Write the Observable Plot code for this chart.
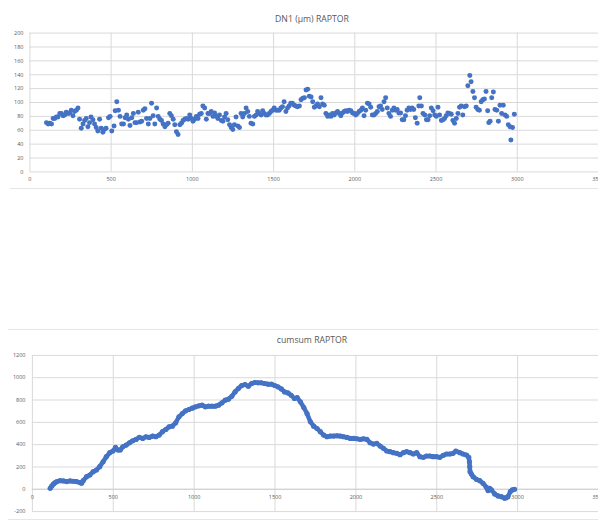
<!DOCTYPE html>
<html><head><meta charset="utf-8">
<script src="https://cdn.jsdelivr.net/npm/d3@7"></script>
<script src="https://cdn.jsdelivr.net/npm/@observablehq/plot@0.6"></script>
<style>
body{margin:0;background:#fff;width:598px;height:523px;overflow:hidden;position:relative;font-family:"Open Sans",sans-serif}
.t{position:absolute;left:0;width:624px;text-align:center;color:#595959;font-size:8.7px;line-height:1;white-space:nowrap}
.b{position:absolute;height:1px;background:#e6e6e6}
#p1,#p2{position:absolute;left:0}
</style></head><body>
<div class="b" style="top:188px;left:10px;width:600px"></div>
<div class="b" style="top:329px;left:8px;width:600px"></div>
<div class="b" style="top:519px;left:8px;width:600px"></div>
<div id="p1" style="top:0"></div>
<div id="p2" style="top:329px"></div>
<div class="t" style="top:15px">DN1 (µm) RAPTOR</div>
<div class="t" style="top:336px">cumsum RAPTOR</div>
<script>
const xTicks = [0, 500, 1000, 1500, 2000, 2500, 3000, 3500];
const yTicksTop = [0, 20, 40, 60, 80, 100, 120, 140, 160, 180, 200];
const yTicksBot = [-200, 0, 200, 400, 600, 800, 1000, 1200];

const dnX = [102,112,122,133,143,153,163,173,184,194,204,214,224,235,245,255,265,275,286,296,306,316,327,337,347,357,367,376,388,398,408,418,429,439,449,459,469,484,494,504,518,525,535,545,555,565,576,586,596,606,616,627,637,647,657,667,678,688,698,708,718,729,739,749,759,769,780,790,800,810,820,831,841,851,861,871,882,892,902,912,923,933,943,953,963,974,984,994,1004,1014,1025,1035,1045,1055,1065,1076,1086,1096,1106,1116,1127,1137,1147,1157,1167,1178,1188,1198,1208,1218,1229,1239,1249,1259,1269,1280,1290,1300,1310,1321,1331,1341,1351,1361,1372,1382,1392,1402,1412,1423,1433,1443,1453,1463,1474,1484,1494,1504,1514,1525,1535,1545,1555,1565,1576,1586,1596,1606,1616,1627,1637,1647,
1659,1669,1680,1690,1700,1710,1720,1731,1741,1751,1761,1771,1782,1792,1802,1812,1822,1833,1843,1853,1863,1873,1884,1894,1904,1914,1924,1935,1945,1955,1965,1976,1986,1996,2006,2016,2027,2037,2047,2057,2067,2078,2088,2098,2108,2118,2129,2139,2149,2159,2169,2180,2190,2200,2210,2220,2231,2241,2251,2261,2271,2282,2292,2302,2312,2322,2333,2343,2353,2363,2373,2384,2394,2400,2410,2420,2431,2441,2451,2461,2471,2482,2492,2502,2512,2522,2533,2543,2553,2563,2573,2584,2594,2604,2614,2625,2635,2645,2655,2665,2675,2686,2696,2708,2716,2727,2737,2747,2757,2767,2778,2788,2798,2808,2818,2825,2833,2843,2853,2863,2874,2884,2894,2904,2914,2925,2935,2945,2955,2961,2971,2982];
const dnY = [71,69,70,69,77,77,79,79,84,84,81,82,86,84,85,89,81,87,89,92,76,63,69,74,77,65,71,79,75,69,64,59,76,63,57,61,63,78,80,59,66,88,101,89,80,69,69,78,82,76,67,78,84,71,71,86,72,73,89,91,77,69,77,99,81,69,92,80,76,74,69,65,68,70,84,81,76,68,58,54,68,70,74,76,77,76,82,77,73,76,80,77,83,84,95,92,76,84,84,87,80,85,80,77,82,74,73,79,84,75,68,64,61,68,79,66,64,84,79,84,92,87,80,70,69,80,82,87,84,82,88,84,82,82,84,87,89,92,89,89,89,92,94,101,87,92,95,99,99,96,95,94,
95,104,106,107,118,119,109,108,101,93,95,98,94,107,98,96,84,80,82,80,84,82,85,87,84,81,85,87,88,87,89,88,85,84,82,84,87,89,92,81,89,99,98,93,82,82,84,87,94,95,90,101,107,92,84,80,89,92,89,90,85,85,75,75,81,89,92,90,92,90,78,70,95,107,95,84,82,75,75,81,92,88,82,80,93,82,74,75,77,81,85,84,83,74,70,77,84,93,95,82,94,95,124,139,130,116,107,93,90,89,101,104,105,116,88,71,73,107,115,90,89,73,96,84,96,82,80,68,65,46,64,83];

const csX = [110,120,131,141,151,171,192,212,233,253,273,294,304,314,335,355,376,396,416,437,457,478,498,514,529,543,559,580,600,620,641,661,682,702,722,743,763,784,804,825,845,865,886,906,927,947,967,988,1008,1029,1049,1069,1090,1110,1131,1151,1172,1192,1212,1233,1253,1273,1294,1314,1335,1355,1376,1396,1416,1437,1457,1478,1498,1518,1539,1559,1580,1600,1620,
1637,1657,1678,1698,1719,1739,1760,1780,1801,1821,1842,1862,1883,1903,1924,1945,1965,1986,2006,2027,2047,2068,2088,2109,2129,2150,2170,2191,2211,2232,2253,2273,2294,2314,2335,2355,2376,2396,2417,2437,2458,2478,2499,2519,2540,2560,2581,2601,2618,2643,2663,2684,2698,2702,2704,2706,2714,2725,2745,2766,2786,2807,2817,2827,2838,2858,2879,2899,2920,2930,2940,2955,2967,2981];
const csY = [9,30,48,60,69,77,75,69,75,72,69,60,54,77,113,128,158,173,203,247,292,328,343,375,352,352,381,396,417,435,447,465,456,471,465,477,471,486,516,536,560,566,596,650,679,703,715,727,739,748,754,739,745,745,745,754,775,799,808,834,873,903,930,939,924,948,957,954,954,948,942,942,930,918,900,873,864,843,814,
822,784,733,679,605,566,545,516,486,471,477,477,480,477,471,465,456,456,453,447,453,447,417,405,411,387,367,343,337,328,322,310,328,337,328,316,328,292,286,298,298,292,292,286,304,316,316,322,343,328,316,307,286,247,203,158,137,113,89,77,54,18,-12,9,-6,-42,-60,-66,-80,-75,-66,-21,-6,0];

const dn = dnX.map((x, i) => ({x, y: dnY[i]}));
const cs = csX.map((x, i) => ({x, y: csY[i]}));

const blue = "#4472C4";
const grid = "#d9d9d9";
const txt = "#595959";
const fmt = d => String(d);
const baseStyle = {fontFamily: "Open Sans", fontSize: "5.5px", color: txt, background: "transparent", overflow: "visible"};

const p1 = Plot.plot({
  width: 600, height: 188,
  marginLeft: 29.5, marginRight: 0, marginTop: 32.7, marginBottom: 16,
  style: baseStyle,
  x: {domain: [0, 3500], label: null},
  y: {domain: [0, 200], label: null},
  marks: [
    Plot.gridX(xTicks, {stroke: grid, strokeOpacity: 1}),
    Plot.gridY(yTicksTop, {stroke: grid, strokeOpacity: 1}),
    Plot.axisX(xTicks, {tickSize: 0, tickPadding: 5, tickFormat: fmt, fill: txt, label: null}),
    Plot.axisY(yTicksTop, {tickSize: 0, tickPadding: 6.5, tickFormat: fmt, fill: txt, label: null}),
    Plot.dot(dn, {x: "x", y: "y", r: 2.5, fill: blue, stroke: "none"})
  ]
});
document.getElementById("p1").appendChild(p1);

const p2 = Plot.plot({
  width: 600, height: 190,
  marginLeft: 32, marginRight: 0, marginTop: 26, marginBottom: 7.3,
  style: baseStyle,
  x: {domain: [0, 3500], label: null, axis: null},
  y: {domain: [-200, 1200], label: null},
  marks: [
    Plot.gridX(xTicks, {stroke: grid, strokeOpacity: 1}),
    Plot.gridY(yTicksBot, {stroke: grid, strokeOpacity: 1}),
    Plot.ruleY([0], {stroke: "#cfcfcf"}),
    Plot.axisY(yTicksBot, {tickSize: 0, tickPadding: 7, tickFormat: fmt, fill: txt, label: null}),
    Plot.text(xTicks, {x: d => d, y: 0, dy: 8.4, text: fmt, fill: txt, fontSize: 5.5}),
    Plot.line(cs, {x: "x", y: "y", stroke: blue, strokeWidth: 4.5, strokeLinejoin: "round", strokeLinecap: "round"}),
    Plot.dot(cs, {x: "x", y: "y", r: 2.6, fill: blue, stroke: "none"})
  ]
});
document.getElementById("p2").appendChild(p2);
</script>
</body></html>
